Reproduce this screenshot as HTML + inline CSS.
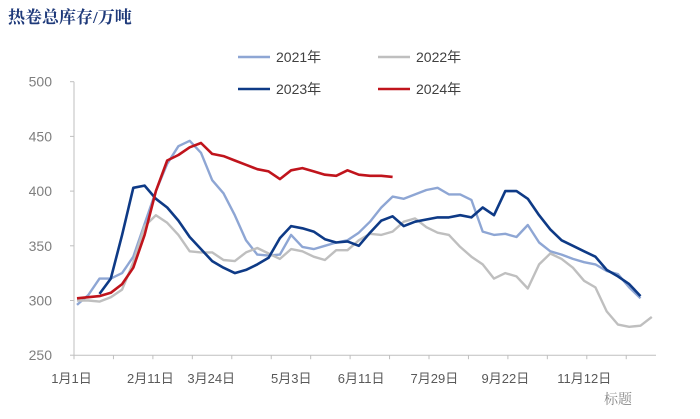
<!DOCTYPE html>
<html><head><meta charset="utf-8"><style>
body{margin:0;background:#fff;width:700px;height:414px;overflow:hidden;font-family:"Liberation Sans","Noto Sans CJK SC",sans-serif}
</style></head><body>
<svg id="chart" width="700" height="414" xmlns="http://www.w3.org/2000/svg">
<text x="8" y="23" font-family="'Liberation Serif','Noto Serif CJK SC',serif" font-weight="bold" font-size="17" fill="#1F3A7A">热卷总库存/万吨</text>
<text x="604" y="404" font-family="'Liberation Serif','Noto Serif CJK SC',serif" font-size="14" fill="#888">标题</text>
<g id="axes"></g><g id="series"></g><g id="legend"></g>
</svg>
<script>
const yTicks=[250,300,350,400,450,500];
const xLabels=["1月1日","2月11日","3月24日","5月3日","6月11日","7月29日","9月22日","11月12日"];
const xLabelWeeks=[-1.2,5.8,11.2,18.3,24.5,31,37.3,44.3];
const years=["2021年","2022年","2023年","2024年"];
const colors=["#8EA6D4","#BFBFBF","#0E3A86","#C0141C"];
const s2021=[296,305,320,320,325,340,370,400,425,441,446,435,410,398,378,355,342,341,342,360,349,347,350,353,355,362,372,385,395,393,397,401,403,397,397,392,363,360,361,358,369,353,345,342,338,335,333,327,324,312,302];
const s2022=[300,300,299,303,310,335,368,378,371,360,345,344,344,337,336,344,348,343,338,347,345,340,337,346,346,355,361,360,363,372,375,367,362,360,349,340,333,320,325,322,311,333,343,338,330,318,312,290,278,276,277,285];
const s2023=[null,null,306,320,360,403,405,393,385,373,358,347,336,330,325,328,333,339,357,368,366,363,356,353,354,350,362,373,377,368,372,374,376,376,378,376,385,378,400,400,393,378,365,355,350,345,340,328,322,315,304];
const s2024=[302,303,304,307,315,330,360,400,428,433,440,444,434,432,428,424,420,418,411,419,421,418,415,414,419,415,414,414,413];
const X0=77,DX=11.27,Y0=300.5,K=1.094;
const xs=i=>X0+i*DX, ys=v=>Y0-(v-300)*K;
const NS="http://www.w3.org/2000/svg";
function mk(t,a,p){const e=document.createElementNS(NS,t);for(const k in a)e.setAttribute(k,a[k]);p.appendChild(e);return e;}
const ax=document.getElementById('axes');
const yl=mk('line',{x1:74,y1:ys(500),x2:74,y2:ys(250),stroke:'#bfbfbf'},ax);


const xl=mk('line',{x1:74,y1:ys(250),x2:656,y2:ys(250),stroke:'#bfbfbf'},ax);


yTicks.forEach(v=>{
 mk('line',{x1:70,y1:ys(v),x2:74,y2:ys(v),stroke:'#bfbfbf'},ax);
 const t=mk('text',{x:52,y:ys(v)+5,'text-anchor':'end','font-size':14,fill:'#7f7f7f'},ax);t.textContent=v;
 
 
});
for(let i=0;i<=51;i+=3.5){mk('line',{x1:xs(i)-3,y1:ys(250),x2:xs(i)-3,y2:ys(250)+4,stroke:'#bfbfbf'},ax);}
xLabels.forEach((l,i)=>{
 const t=mk('text',{x:xs(xLabelWeeks[i])+8,y:383,'text-anchor':'middle','font-size':13,fill:'#595959'},ax);t.textContent=l;
 
 
});
const sg=document.getElementById('series');
[s2021,s2022,s2023,s2024].forEach((s,k)=>{
 let d="";s.forEach((v,i)=>{if(v==null)return;d+=(d?"L":"M")+xs(i).toFixed(1)+","+ys(v).toFixed(1);});
 const p=mk('path',{d:d,fill:'none',stroke:colors[k],'stroke-width':k>=2?2.6:2.4,'stroke-linejoin':'round'},sg);
 
 
});
const lg=document.getElementById('legend');
const lpos=[[238,57],[378,57],[238,89],[378,89]];
years.forEach((y,k)=>{
 const g=mk('g',{},lg);
 
 
 mk('line',{x1:lpos[k][0],y1:lpos[k][1],x2:lpos[k][0]+32,y2:lpos[k][1],stroke:colors[k],'stroke-width':2.6},g);
 const t=mk('text',{x:lpos[k][0]+38,y:lpos[k][1]+5,'font-size':14,fill:'#404040'},g);t.textContent=y;
});
</script>
</body></html>
